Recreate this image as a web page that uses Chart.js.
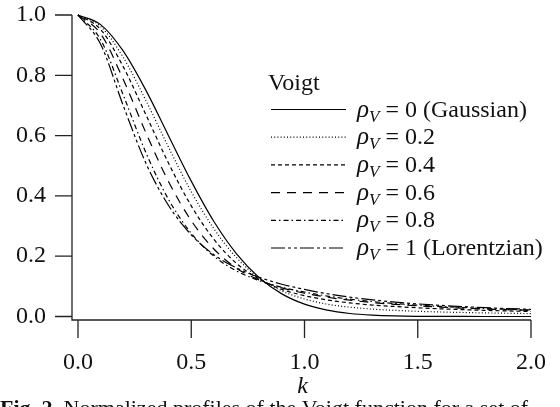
<!DOCTYPE html>
<html>
<head>
<meta charset="utf-8">
<script src="https://cdn.jsdelivr.net/npm/chart.js@4.4.1/dist/chart.umd.min.js"></script>
<style>
  html, body { margin: 0; padding: 0; background: #fff; }
  #wrap { width: 560px; height: 407px; position: relative; }
</style>
</head>
<body>
<div id="wrap"><canvas id="voigt-chart" width="560" height="407"></canvas></div>
<script>
// Voigt profile chart

const kValues = [0, 0.1, 0.2, 0.3, 0.4, 0.5, 0.6, 0.7, 0.8, 0.9, 1.0,
                 1.1, 1.2, 1.3, 1.4, 1.5, 1.6, 1.7, 1.8, 1.9, 2.0];

const rho0 = [1, 0.968, 0.880, 0.750, 0.599, 0.449, 0.315, 0.208, 0.129, 0.075, 0.041,
              0.021, 0.010, 0.0044, 0.0018, 0.0007, 0.0003, 0.0001, 0, 0, 0];
const rho02 = [1, 0.962, 0.859, 0.716, 0.561, 0.414, 0.291, 0.195, 0.127, 0.085, 0.058,
               0.041, 0.031, 0.0245, 0.0203, 0.0172, 0.0150, 0.0133, 0.0119, 0.0107, 0.0097];
const rho04 = [1, 0.952, 0.828, 0.669, 0.508, 0.367, 0.256, 0.176, 0.124, 0.090, 0.069,
               0.055, 0.045, 0.038, 0.033, 0.0289, 0.0255, 0.0227, 0.0203, 0.0183, 0.0166];
const rho06 = [1, 0.938, 0.786, 0.609, 0.447, 0.318, 0.224, 0.160, 0.121, 0.095, 0.077,
               0.064, 0.054, 0.0463, 0.0403, 0.0353, 0.0312, 0.0277, 0.0248, 0.0224, 0.0202];
const rho08 = [1, 0.918, 0.734, 0.543, 0.388, 0.276, 0.200, 0.151, 0.119, 0.097, 0.081,
               0.0678, 0.0576, 0.0496, 0.0431, 0.0378, 0.0333, 0.0296, 0.0264, 0.0238, 0.0216];
const rho1 = [1, 0.903, 0.699, 0.508, 0.368, 0.271, 0.205, 0.161, 0.130, 0.107, 0.090,
              0.0755, 0.0642, 0.0552, 0.0478, 0.0418, 0.0369, 0.0328, 0.0293, 0.0263, 0.0238];

const seriesValues = [rho0, rho02, rho04, rho06, rho08, rho1];
const seriesLabels = ['0 (Gaussian)', '0.2', '0.4', '0.6', '0.8', '1 (Lorentzian)'];
const seriesDashes = [[], [1, 2.2], [4, 3], [9, 7], [5, 3, 1.5, 3], [14, 3, 3, 3, 3, 3]];

const xTicks = [0, 0.5, 1.0, 1.5, 2.0];
const yTicks = [0, 0.2, 0.4, 0.6, 0.8, 1.0];

const FONT = '"Liberation Serif", "DejaVu Serif", serif';

function drawRho(ctx, x, y, rest) {
    ctx.textAlign = 'left';
    ctx.textBaseline = 'alphabetic';
    ctx.font = 'italic 25px ' + FONT;
    ctx.fillText('\u03C1', x, y);
    let w = ctx.measureText('\u03C1').width;
    ctx.font = 'italic 17px ' + FONT;
    ctx.fillText('V', x + w, y + 5);
    w += ctx.measureText('V').width;
    ctx.font = '24px ' + FONT;
    ctx.fillText(' = ' + rest, x + w, y);
}

const axesPlugin = {
    id: 'paperAxes',
    afterDraw(chart) {
        const ctx = chart.ctx;
        const xs = chart.scales.x;
        const ys = chart.scales.y;
        const area = chart.chartArea;
        const axisX = area.left - 6;
        const axisY = area.bottom + 3.5;

        ctx.save();
        ctx.strokeStyle = '#222';
        ctx.lineWidth = 1.3;
        ctx.beginPath();
        ctx.moveTo(axisX, area.top);
        ctx.lineTo(axisX, axisY);
        ctx.lineTo(xs.getPixelForValue(2.0), axisY);
        yTicks.forEach(v => {
            const py = ys.getPixelForValue(v);
            ctx.moveTo(axisX - 17, py);
            ctx.lineTo(axisX, py);
        });
        xTicks.forEach(v => {
            const px = xs.getPixelForValue(v);
            ctx.moveTo(px, axisY);
            ctx.lineTo(px, axisY + 18);
        });
        ctx.stroke();

        ctx.fillStyle = '#111';
        ctx.font = '24px ' + FONT;
        ctx.textAlign = 'right';
        ctx.textBaseline = 'middle';
        yTicks.forEach(v => ctx.fillText(v.toFixed(1), axisX - 26, ys.getPixelForValue(v)));
        ctx.textAlign = 'center';
        xTicks.forEach(v => ctx.fillText(v.toFixed(1), xs.getPixelForValue(v), axisY + 43));

        ctx.font = 'italic 24px ' + FONT;
        ctx.fillText('k', xs.getPixelForValue(1.0) - 2, axisY + 67);

        // legend
        ctx.font = '24px ' + FONT;
        ctx.textAlign = 'left';
        ctx.textBaseline = 'alphabetic';
        ctx.fillText('Voigt', 268, 90);
        seriesLabels.forEach((lab, i) => {
            const ly = 109.5 + i * 27.7;
            ctx.strokeStyle = '#000';
            ctx.lineWidth = 1.2;
            ctx.setLineDash(seriesDashes[i]);
            ctx.beginPath();
            ctx.moveTo(271, ly);
            ctx.lineTo(346, ly);
            ctx.stroke();
            ctx.setLineDash([]);
            drawRho(ctx, 357, ly + 7, lab);
        });

        // caption, cut by the bottom edge
        ctx.font = 'bold 22px ' + FONT;
        ctx.fillText('Fig. 2.', 0, 415);
        const fw = ctx.measureText('Fig. 2.').width;
        ctx.font = '22px ' + FONT;
        ctx.fillText(' Normalized profiles of the Voigt function for a set of', fw, 415);
        ctx.restore();
    }
};

new Chart(document.getElementById('voigt-chart'), {
    type: 'line',
    data: {
        datasets: seriesValues.map((vals, i) => ({
            label: seriesLabels[i],
            data: kValues.map((k, j) => ({ x: k, y: vals[j] })),
            borderColor: '#000',
            borderWidth: 1.2,
            borderDash: seriesDashes[i],
            pointRadius: 0,
            fill: false,
            cubicInterpolationMode: 'monotone',
            clip: false
        }))
    },
    options: {
        responsive: false,
        animation: false,
        devicePixelRatio: 1,
        layout: { padding: { left: 78, right: 29, top: 15, bottom: 90.5 } },
        scales: {
            x: { type: 'linear', min: 0, max: 2, display: false },
            y: { type: 'linear', min: 0, max: 1, display: false }
        },
        plugins: {
            legend: { display: false },
            tooltip: { enabled: false }
        }
    },
    plugins: [axesPlugin]
});
</script>
</body>
</html>
